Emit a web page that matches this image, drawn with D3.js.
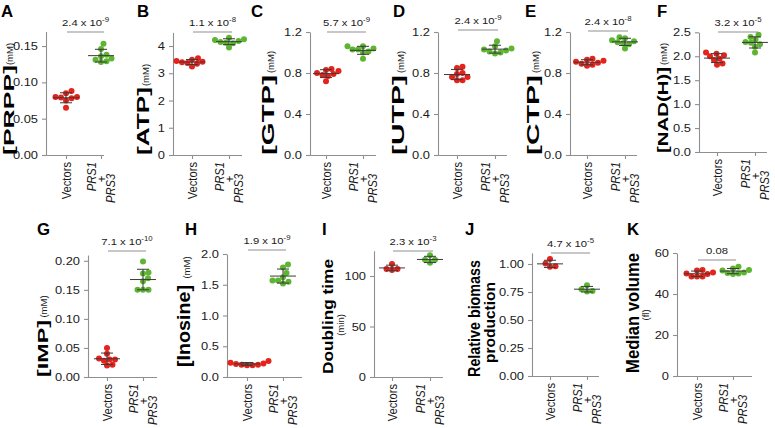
<!DOCTYPE html>
<html><head><meta charset="utf-8">
<script src="https://cdn.jsdelivr.net/npm/d3@7"></script>
<style>
body{margin:0;background:#fff}
svg{display:block}
text{font-family:"Liberation Sans",Arial,Helvetica,sans-serif}
</style>
</head><body>
<svg id="c" width="775" height="428"></svg>
<script>
// ---------------- DATA ----------------
const categories = ["Vectors", "PRS1 + PRS3"];
const prppVectors = [0.088, 0.085, 0.080, 0.079, 0.078, 0.080, 0.075, 0.065];
const prppPRS = [0.153, 0.146, 0.138, 0.136, 0.133, 0.131, 0.129, 0.128];
const atpVectors = [3.55, 3.50, 3.45, 3.42, 3.40, 3.38, 3.35, 3.25];
const atpPRS = [4.30, 4.25, 4.22, 4.18, 4.15, 4.12, 4.10, 3.95];
const gtpVectors = [0.84, 0.83, 0.82, 0.80, 0.79, 0.78, 0.77, 0.72];
const gtpPRS = [1.06, 1.06, 1.04, 1.03, 1.03, 1.01, 1.00, 0.94];
const utpVectors = [0.86, 0.85, 0.80, 0.79, 0.76, 0.76, 0.73, 0.73];
const utpPRS = [1.11, 1.06, 1.04, 1.03, 1.02, 1.01, 1.00, 0.99];
const ctpVectors = [0.94, 0.93, 0.92, 0.91, 0.90, 0.89, 0.88, 0.87];
const ctpPRS = [1.15, 1.14, 1.12, 1.11, 1.10, 1.09, 1.08, 1.04];
const nadVectors = [2.08, 2.05, 2.02, 2.00, 1.95, 1.92, 1.85, 1.82];
const nadPRS = [2.45, 2.40, 2.35, 2.30, 2.28, 2.25, 2.20, 2.08];
const impVectors = [0.050, 0.040, 0.032, 0.030, 0.030, 0.028, 0.021, 0.020];
const impPRS = [0.199, 0.180, 0.178, 0.170, 0.165, 0.150, 0.150, 0.150];
const inosineVectors = [0.26, 0.23, 0.22, 0.21, 0.20, 0.20, 0.19, 0.19];
const inosinePRS = [1.83, 1.78, 1.69, 1.62, 1.57, 1.57, 1.55, 1.52];
const doublingVectors = [112, 107, 106, 107];
const doublingPRS = [120.5, 116, 116, 113];
const biomassVectors = [1.045, 1.005, 0.975, 0.98];
const biomassPRS = [0.81, 0.775, 0.755, 0.76];
const volumeVectors = [51.7, 51.5, 50.5, 50.0, 49.8, 48.5, 48.5, 48.5];
const volumePRS = [53.3, 52.5, 51.7, 51.5, 50.5, 50.2, 50.0, 49.8];

const panelLetters = ["A","B","C","D","E","F","G","H","I","J","K"];
const yTitles = [["[PRPP]"],["[ATP]"],["[GTP]"],["[UTP]"],["[CTP]"],["[NAD(H)]"],["[IMP]"],["[Inosine]"],["Doubling time"],["Relative biomass","production"],["Median volume"]];
const yUnits = ["(mM)","(mM)","(mM)","(mM)","(mM)","(mM)","(mM)","(mM)","(min)",null,"(fl)"];
const pValues = ["2.4","1.1","5.7","2.4","2.4","3.2","7.1","1.9","2.3","4.7","0.08"];
const pExponents = ["-9","-8","-9","-9","-8","-5","-10","-9","-3","-5",null];
const yTicksList = [
  [0,0.05,0.10,0.15],[0,1,2,3,4],[0,0.4,0.8,1.2],[0,0.4,0.8,1.2],[0,0.4,0.8,1.2],
  [0,0.5,1.0,1.5,2.0,2.5],[0,0.05,0.10,0.15,0.20],[0,0.5,1.0,1.5,2.0],[0,50,100],
  [0,0.25,0.5,0.75,1.0],[0,20,40,60]];
const yFormats = [".2f","d",".1f",".1f",".1f",".1f",".2f",".1f","d",".2f","d"];
const yDomains = [[0,0.17],[0,4.5],[0,1.2],[0,1.2],[0,1.2],[0,2.5],[0,0.21],[0,2],[0,125],[0,1.1],[0,60]];
const vecData = [prppVectors,atpVectors,gtpVectors,utpVectors,ctpVectors,nadVectors,impVectors,inosineVectors,doublingVectors,biomassVectors,volumeVectors];
const prsData = [prppPRS,atpPRS,gtpPRS,utpPRS,ctpPRS,nadPRS,impPRS,inosinePRS,doublingPRS,biomassPRS,volumePRS];

// ---------------- LAYOUT ----------------
// ax: y-axis x, t1/t2: category ticks, xe: x-axis end, yb/yt: y range, sy: stat line y
// lx,ly: letter position; tt: title lines [baselineX, fontSize, yStart(bottom), yEnd(top)]
// ut: unit [baselineX, yCenter]
const layout = [
 {ax:46, t1:66, t2:101, xe:104, yb:155, yt:31.5, sy:32, lx:1,   ly:17, tt:[[14,14.5,155,65]],   ut:[12.5,54]},
 {ax:173,t1:192,t2:229, xe:242, yb:155, yt:32.4, sy:32, lx:137, ly:17, tt:[[149,17,155,87]],    ut:[148.5,75]},
 {ax:310,t1:326,t2:363, xe:376, yb:155, yt:32,   sy:32, lx:251, ly:17, tt:[[274,17,155,75]],    ut:[273.5,62]},
 {ax:438,t1:457,t2:495, xe:507, yb:155, yt:32,   sy:30, lx:393, ly:17, tt:[[404,17,155,75]],    ut:[403.5,62]},
 {ax:570,t1:587,t2:625, xe:637, yb:155, yt:32,   sy:31, lx:525, ly:17, tt:[[539,17,155,75]],    ut:[538.5,62]},
 {ax:699,t1:717,t2:755, xe:767, yb:152, yt:32.3, sy:32, lx:657, ly:17, tt:[[668,15,153,67]],    ut:[667,54]},
 {ax:88, t1:107,t2:143, xe:157, yb:377, yt:255,  sy:251,lx:37,  ly:235,tt:[[48,15,377,320]],    ut:[47,306.5]},
 {ax:227,t1:247,t2:283, xe:302, yb:377, yt:254,  sy:250,lx:185, ly:235,tt:[[190,17.5,367,285]], ut:[189.5,267.5]},
 {ax:374,t1:392,t2:430, xe:443, yb:377, yt:250.75,sy:251,lx:322,ly:235,tt:[[333,15,374,259]],   ut:[344.3,325]},
 {ax:532,t1:550,t2:587, xe:599, yb:376, yt:252.8,sy:253,lx:465, ly:235,tt:[[480,17,377,260],[494.5,15.5,363,282]]},
 {ax:677,t1:697,t2:733, xe:752, yb:376, yt:253,  sy:260,lx:627, ly:235,tt:[[638.5,18,373,253]], ut:[649,315]}
];

const RED = "#e3231c", GREEN = "#5db532", AXIS = "#8f8f8f", BAR = "#3a3a3a";
const FONT = '"Liberation Sans",Arial,Helvetica,sans-serif';
const SX = 1.15; // horizontal stretch of the reference's text
const R = 3;
const MIN_GAP = 5.5; // centre distance allowed between neighbouring dots

const svg = d3.select("#c");

function swarm(vals, cx, y) {
  const sorted = vals.map(v => v).sort((a, b) => a - b);
  const placed = [];
  for (const v of sorted) {
    const py = y(v);
    let off = 0;
    for (let k = 0; k < 300; k++) {
      const o = (k % 2 ? 1 : -1) * Math.ceil(k / 2) * 0.5;
      if (placed.every(p => Math.hypot(p.x - (cx + o), p.y - py) >= MIN_GAP)) { off = o; break; }
    }
    placed.push({x: cx + off, y: py, v});
  }
  return placed;
}

panelLetters.forEach((letter, i) => {
  const L = layout[i];
  const g = svg.append("g");
  const y = d3.scaleLinear().domain(yDomains[i]).range([L.yb, L.yt]);
  const x = d3.scalePoint().domain(categories).range([L.t1, L.t2]);

  // panel letter
  g.append("text").attr("x", L.lx).attr("y", L.ly).attr("font-size", 16.8)
    .attr("font-weight", "bold").attr("fill", "#000").text(letter);

  // y axis
  const ya = g.append("g").attr("transform", `translate(${L.ax},0)`)
    .call(d3.axisLeft(y).tickValues(yTicksList[i]).tickFormat(d3.format(yFormats[i]))
      .tickSizeInner(4).tickSizeOuter(0).tickPadding(3));
  ya.attr("font-family", FONT).attr("font-size", 11.2);
  ya.select(".domain").attr("stroke", AXIS).attr("stroke-width", 1.1);
  ya.selectAll(".tick line").attr("stroke", AXIS).attr("stroke-width", 1.1);
  ya.selectAll(".tick text").attr("fill", "#1a1a1a").attr("transform", `scale(${SX},1)`);

  // x axis
  g.append("line").attr("x1", L.ax).attr("x2", L.xe).attr("y1", L.yb + 0.5).attr("y2", L.yb + 0.5)
    .attr("stroke", AXIS).attr("stroke-width", 1.1);
  const xa = g.append("g").attr("transform", `translate(0,${L.yb})`)
    .call(d3.axisBottom(x).tickSizeInner(4).tickSizeOuter(0).tickFormat(""));
  xa.select(".domain").remove();
  xa.selectAll(".tick line").attr("stroke", AXIS).attr("stroke-width", 1.1);

  // x labels
  const lab = (tx, ty, txt, anchor, italic) => g.append("text")
    .attr("transform", `translate(${tx},${ty}) scale(${SX},1) rotate(-90)`)
    .attr("text-anchor", anchor).attr("font-size", 11.2).attr("fill", "#1a1a1a")
    .attr("font-style", italic ? "italic" : "normal").text(txt);
  const cx1 = x(categories[0]), cx2 = x(categories[1]);
  lab(cx1 + 4.5, L.yb + 7, categories[0], "end", false);
  const parts = categories[1].split(" ");
  lab(cx2 - 5, L.yb + 7, parts[0], "end", true);
  lab(cx2 + 4.5, L.yb + 24, parts[1], "middle", false);
  lab(cx2 + 14, L.yb + 48, parts[2], "start", true);

  // y title (rotated, stretched along its length to the reference's extent)
  yTitles[i].forEach((t, j) => {
    const [bx, fs, y0, y1] = L.tt[j];
    const tEl = g.append("text").attr("text-anchor", "middle").attr("font-size", fs)
      .attr("font-weight", "bold").attr("fill", "#000").text(t);
    const nat = tEl.node().getComputedTextLength();
    const k = (y0 - y1) / nat;
    tEl.attr("transform", `translate(${bx},${(y0 + y1) / 2}) scale(1,${k}) rotate(-90)`);
  });
  if (yUnits[i]) {
    const [ux, uy] = L.ut;
    g.append("text").attr("transform", `translate(${ux},${uy}) rotate(-90)`)
      .attr("text-anchor", "middle").attr("font-size", 9.5).attr("fill", "#1a1a1a").text(yUnits[i]);
  }

  // points
  [[vecData[i], cx1, RED], [prsData[i], cx2, GREEN]].forEach(([vals, cx, col]) => {
    const pts = swarm(vals, cx, y);
    g.selectAll(null).data(pts).join("circle")
      .attr("cx", d => d.x).attr("cy", d => d.y).attr("r", R).attr("fill", col);
    const m = d3.mean(vals), s = d3.deviation(vals);
    const eb = g.append("g").attr("stroke", BAR).attr("stroke-width", 1);
    eb.append("line").attr("x1", cx - 13).attr("x2", cx + 13).attr("y1", y(m)).attr("y2", y(m));
    eb.append("line").attr("x1", cx).attr("x2", cx).attr("y1", y(m - s)).attr("y2", y(m + s));
    eb.append("line").attr("x1", cx - 6).attr("x2", cx + 6).attr("y1", y(m - s)).attr("y2", y(m - s));
    eb.append("line").attr("x1", cx - 6).attr("x2", cx + 6).attr("y1", y(m + s)).attr("y2", y(m + s));
  });

  // significance
  g.append("line").attr("x1", cx1 + 1).attr("x2", cx2 + 3).attr("y1", L.sy).attr("y2", L.sy)
    .attr("stroke", AXIS).attr("stroke-width", 1.1);
  const pt = g.append("text")
    .attr("transform", `translate(${(cx1 + cx2) / 2 + 2},${L.sy - 6}) scale(${SX},1)`)
    .attr("text-anchor", "middle").attr("font-size", 9.8).attr("fill", "#1a1a1a");
  if (pExponents[i]) {
    pt.append("tspan").text(pValues[i] + " x 10");
    pt.append("tspan").attr("font-size", 6.8).attr("dy", -4).text(pExponents[i]);
  } else {
    pt.text(pValues[i]);
  }
});
</script>
</body></html>
